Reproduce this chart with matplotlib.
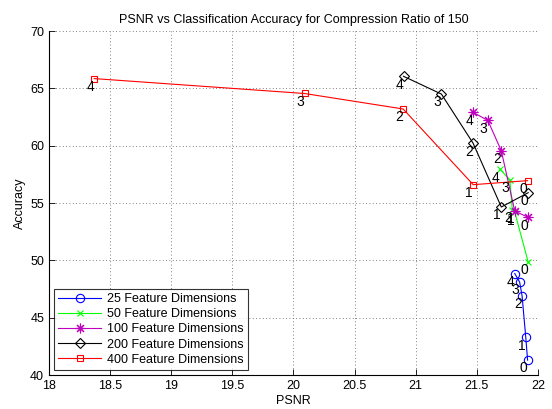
import matplotlib
matplotlib.use("Agg")
import matplotlib.pyplot as plt

plt.rcParams['font.family'] = ['Liberation Sans', 'DejaVu Sans']

# PSNR / accuracy for each feature dimension, points 0..4
psnr25 = [21.915, 21.90, 21.87, 21.85, 21.81]
acc25 = [41.3, 43.3, 46.9, 48.1, 48.85]
psnr50 = [21.92, 21.81, 21.79, 21.77, 21.69]
acc50 = [49.85, 54.2, 54.4, 57.0, 57.95]
psnr100 = [21.92, 21.81, 21.70, 21.59, 21.47]
acc100 = [53.75, 54.3, 59.55, 62.2, 62.9]
psnr200 = [21.92, 21.70, 21.47, 21.21, 20.90]
acc200 = [55.9, 54.65, 60.2, 64.5, 66.05]
psnr400 = [21.915, 21.47, 20.897, 20.09, 18.37]
acc400 = [56.95, 56.6, 63.2, 64.55, 65.85]

labels = ['25 Feature Dimensions', '50 Feature Dimensions', '100 Feature Dimensions',
          '200 Feature Dimensions', '400 Feature Dimensions']
point_ids = ['0', '1', '2', '3', '4']

# colour, marker, marker size
series = [(psnr25, acc25, 'b', 'o', 6),
          (psnr50, acc50, '#00ff00', 'x', 5),
          (psnr100, acc100, 'm', (8, 2, 0), 7),
          (psnr200, acc200, 'k', 'D', 5),
          (psnr400, acc400, 'r', 's', 5)]

fig = plt.figure(figsize=(5.52, 4.09), dpi=100)
ax = fig.add_axes([0.0888, 0.0831, 0.8858, 0.8411])

for (xs, ys, c, m, ms), lab in zip(series, labels):
    ax.plot(xs, ys, color=c, marker=m, markersize=ms, markerfacecolor='none',
            markeredgecolor=c, linewidth=0.8, markeredgewidth=0.8, label=lab)
    for x, y, t in zip(xs, ys, point_ids):
        ax.annotate(t, (x, y), xytext=(-3, -6), textcoords='offset points',
                    ha='center', va='center', fontsize=10, color='k')

ax.set_xlim(18, 22)
ax.set_ylim(40, 70)
ax.set_xticks([18, 18.5, 19, 19.5, 20, 20.5, 21, 21.5, 22])
ax.set_xticklabels(['18', '18.5', '19', '19.5', '20', '20.5', '21', '21.5', '22'])
ax.set_yticks([40, 45, 50, 55, 60, 65, 70])
ax.tick_params(direction='in', length=4, width=0.6, labelsize=9, top=False, right=False)
ax.grid(True, linestyle=(0, (1, 3)), color='0.35', linewidth=0.6)
ax.spines['top'].set_visible(False)
ax.spines['right'].set_visible(False)
for s in ['left', 'bottom']:
    ax.spines[s].set_linewidth(0.8)

ax.set_title('PSNR vs Classification Accuracy for Compression Ratio of 150', fontsize=9, pad=6)
ax.set_xlabel('PSNR', fontsize=9, labelpad=2)
ax.set_ylabel('Accuracy', fontsize=9, labelpad=3)

leg = ax.legend(loc='lower left', fontsize=9, frameon=True, fancybox=False,
                edgecolor='k', borderpad=0.35, labelspacing=0.25, handlelength=3.4,
                handletextpad=0.5, borderaxespad=0.4)
leg.get_frame().set_linewidth(0.8)

fig.savefig('out.png', dpi=100)
